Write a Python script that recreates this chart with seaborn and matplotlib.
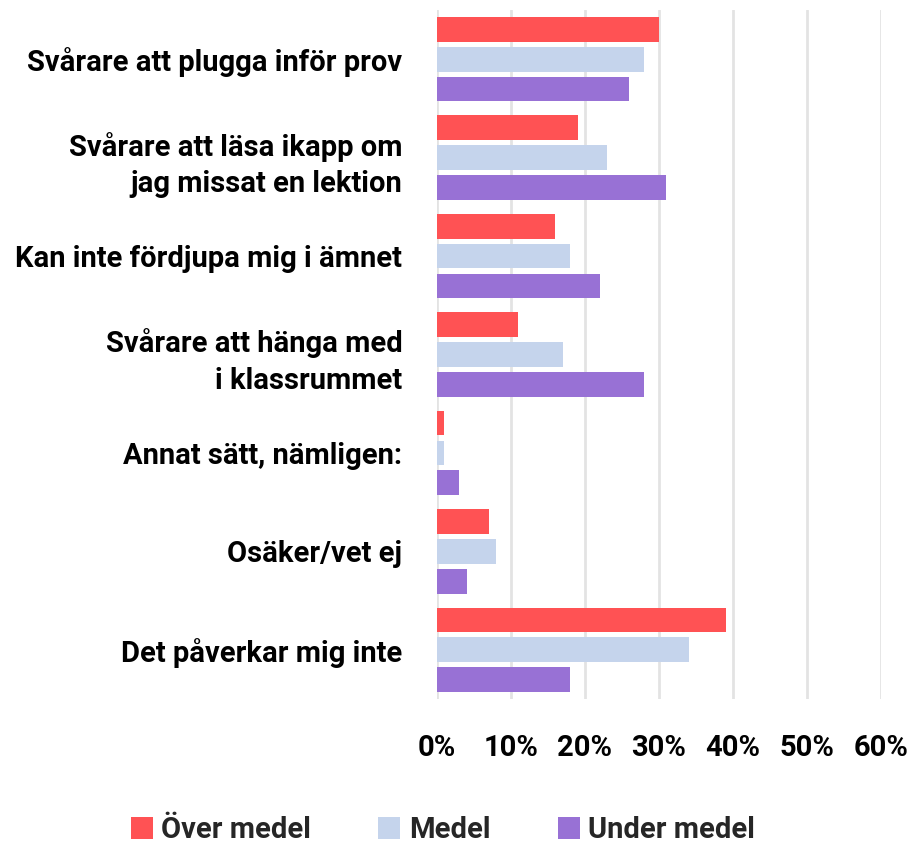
import matplotlib
matplotlib.use("Agg")
import matplotlib.pyplot as plt
from matplotlib.patches import Patch
import seaborn as sns
import pandas as pd

categories = [
    "Svårare att plugga inför prov",
    "Svårare att läsa ikapp om\njag missat en lektion",
    "Kan inte fördjupa mig i ämnet",
    "Svårare att hänga med\ni klassrummet",
    "Annat sätt, nämligen:",
    "Osäker/vet ej",
    "Det påverkar mig inte",
]
series_names = ["Över medel", "Medel", "Under medel"]
over_medel = [30, 19, 16, 11, 1, 7, 39]
medel = [28, 23, 18, 17, 1, 8, 34]
under_medel = [26, 31, 22, 28, 3, 4, 18]
x_ticks = [0, 10, 20, 30, 40, 50, 60]
x_tick_labels = ["0%", "10%", "20%", "30%", "40%", "50%", "60%"]
colors = ["#FF5254", "#C5D4EC", "#9871D5"]

rows = []
for name, vals in zip(series_names, [over_medel, medel, under_medel]):
    for cat, v in zip(categories, vals):
        rows.append({"kategori": cat, "grupp": name, "andel": v})
df = pd.DataFrame(rows)

sns.set_theme(style="white")
plt.rcParams["font.family"] = ["Roboto", "DejaVu Sans"]

FS = 21
fig = plt.figure(figsize=(9.19, 8.43), dpi=100)
ax = fig.add_axes([437 / 919, 1 - 699 / 843, (881 - 437) / 919, (699 - 10) / 843])

sns.barplot(
    data=df, y="kategori", x="andel", hue="grupp", order=categories,
    hue_order=series_names, palette=colors, orient="h",
    width=0.91, gap=0.17, ax=ax, legend=False, linewidth=0, saturation=1,
)

ax.set_xlim(0, 60)
ax.set_ylim(6.5, -0.5)
ax.set_xticks(x_ticks)
ax.set_xticklabels(x_tick_labels)
ax.set_xlabel("")
ax.set_ylabel("")
ax.xaxis.grid(True, color="#E3E3E3", linewidth=2)
ax.yaxis.grid(False)
ax.set_axisbelow(True)
for s in ax.spines.values():
    s.set_visible(False)
ax.tick_params(axis="both", length=0)
ax.tick_params(axis="x", pad=25, labelsize=FS)
ax.tick_params(axis="y", pad=25, labelsize=FS)
for lab in ax.get_xticklabels() + ax.get_yticklabels():
    lab.set_fontweight("semibold")
    lab.set_color("black")
for lab in ax.get_yticklabels():
    lab.set_linespacing(1.4)

handles = [Patch(facecolor=c, edgecolor="none") for c in colors]
fig.legend(
    handles, series_names, loc="center", bbox_to_anchor=(443 / 919, 1 - 830 / 843),
    ncol=3, frameon=False, handlelength=0.75, handleheight=0.75,
    handletextpad=0.3, columnspacing=2.3, prop={"weight": "semibold", "size": FS},
)

fig.savefig("out.png", dpi=100)
